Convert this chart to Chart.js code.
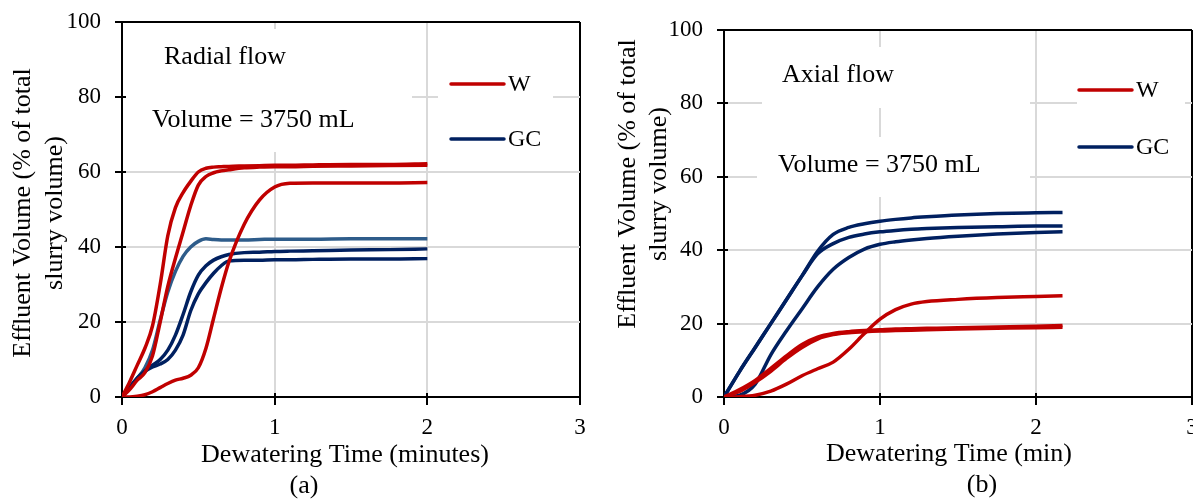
<!DOCTYPE html>
<html>
<head>
<meta charset="utf-8">
<script src="https://cdn.jsdelivr.net/npm/chart.js@4.4.1/dist/chart.umd.min.js"></script>
<style>
  html, body { margin: 0; padding: 0; background: #fff; overflow: hidden; width: 1193px; height: 499px; }
  #wrapA { position: absolute; left: 0; top: 0; width: 600px; height: 499px; }
  #wrapB { position: absolute; left: 600px; top: 0; width: 620px; height: 499px; }
</style>
</head>
<body>
<div id="wrapA"><canvas id="radialChart" width="600" height="499"></canvas></div>
<div id="wrapB"><canvas id="axialChart" width="620" height="499"></canvas></div>
<script>
// ===== DATA =====
const xTickValues = [0, 1, 2, 3];
const yTickValues = [0, 20, 40, 60, 80, 100];
const seriesNames = ["W", "GC"];

// (a) radial flow, time in minutes
const radialTime = [0, 0.05, 0.1, 0.15, 0.2, 0.25, 0.3, 0.35, 0.4, 0.45, 0.5, 0.55, 0.6, 0.65, 0.7, 0.8, 0.9, 1.0, 1.1, 1.25, 1.5, 1.75, 2.0];
const radialW1  = [0, 4, 8.5, 13, 19, 30, 43, 50.5, 54.5, 57.5, 60, 61, 61.3, 61.4, 61.5, 61.6, 61.7, 61.8, 61.8, 61.9, 62, 62, 62.2];
const radialW2  = [0, 2, 4.5, 6.5, 11, 20, 29.5, 37, 44, 51, 56.5, 58.8, 59.8, 60.3, 60.6, 61.1, 61.3, 61.4, 61.4, 61.5, 61.6, 61.7, 61.8];
const radialW3  = [0, 0, 0.2, 0.6, 1.4, 2.5, 3.6, 4.5, 5, 5.8, 7.8, 13, 21, 29, 36, 46, 52.5, 56, 57, 57.1, 57.1, 57.1, 57.2];
const radialGC1 = [0, 2.5, 5, 7.8, 12.5, 20.5, 28, 33.5, 37.5, 40, 41.5, 42.2, 42, 41.9, 41.9, 41.9, 42, 42.1, 42.1, 42.1, 42.2, 42.2, 42.2];
const radialGC2 = [0, 2.5, 5, 7, 8.5, 10, 12.5, 16.5, 22, 28, 32.5, 35, 36.5, 37.4, 38, 38.5, 38.6, 38.8, 38.9, 39, 39.2, 39.3, 39.5];
const radialGC3 = [0, 2.5, 5, 6.8, 8, 8.8, 10, 12.5, 16.5, 23, 27.5, 30.5, 33, 35, 36.3, 36.5, 36.5, 36.6, 36.6, 36.7, 36.8, 36.8, 36.9];

// (b) axial flow, time in minutes
const axialTime = [0, 0.1, 0.2, 0.3, 0.4, 0.5, 0.6, 0.7, 0.8, 0.9, 1.0, 1.1, 1.2, 1.3, 1.5, 1.75, 2.0, 2.17];
const axialW1  = [0, 1.5, 4, 7, 10.5, 13.5, 15.8, 17, 17.5, 17.8, 18, 18.1, 18.2, 18.3, 18.5, 18.7, 18.9, 19.0];
const axialW2  = [0, 2, 4.5, 7.8, 11.2, 14.3, 16.3, 17.3, 17.8, 18.1, 18.3, 18.5, 18.6, 18.7, 18.9, 19.1, 19.3, 19.5];
const axialW3  = [0, 0.1, 0.5, 1.6, 3.5, 5.8, 7.7, 9.5, 13, 17.3, 21.2, 23.8, 25.3, 26, 26.6, 27.1, 27.4, 27.6];
const axialGC1 = [0, 7, 13.5, 20, 26.5, 33, 39.7, 44.3, 46.2, 47.2, 47.9, 48.4, 48.8, 49.1, 49.6, 50.0, 50.2, 50.3];
const axialGC2 = [0, 7, 13.5, 20, 26.5, 33, 39, 41.8, 43.5, 44.4, 45.0, 45.4, 45.7, 45.9, 46.2, 46.4, 46.6, 46.6];
const axialGC3 = [0, 0.5, 3.5, 11.5, 18, 24, 30, 34.8, 38, 40.3, 41.6, 42.3, 42.8, 43.2, 43.8, 44.4, 44.8, 45.0];

// ===== STYLE =====
const RED = "#C00000";
const NAVY = "#002060";
const STEEL = "#2E5C8A";
const SERIF = "'Liberation Serif', 'Times New Roman', serif";

function pts(times, vals) {
  return times.map((t, i) => ({ x: t, y: vals[i] }));
}

function line(times, vals, color) {
  return {
    data: pts(times, vals),
    borderColor: color,
    borderWidth: 3.5,
    pointRadius: 0,
    fill: false,
    cubicInterpolationMode: "monotone"
  };
}

// white boxes, legend, titles and captions
const decor = {
  id: "decor",
  beforeDatasetsDraw(chart, args, opts) {
    const { ctx, chartArea, scales: { x, y } } = chart;
    ctx.save();
    ctx.fillStyle = "#fff";
    opts.boxes.forEach(b => ctx.fillRect(b[0], b[1], b[2] - b[0], b[3] - b[1]));
    // inner part of the tick marks
    ctx.strokeStyle = "#000";
    ctx.lineWidth = 2;
    ctx.beginPath();
    y.ticks.forEach(t => {
      const py = Math.round(y.getPixelForValue(t.value));
      ctx.moveTo(chartArea.left, py);
      ctx.lineTo(chartArea.left + 4, py);
    });
    x.ticks.forEach(t => {
      const px = Math.round(x.getPixelForValue(t.value));
      ctx.moveTo(px, chartArea.bottom);
      ctx.lineTo(px, chartArea.bottom - 4);
    });
    ctx.stroke();
    ctx.restore();
  },
  afterDraw(chart, args, opts) {
    const { ctx } = chart;
    ctx.save();
    ctx.fillStyle = "#000";
    ctx.textBaseline = "alphabetic";

    ctx.font = "26px " + SERIF;
    ctx.textAlign = "left";
    opts.notes.forEach(n => ctx.fillText(n.text, n.x, n.y));

    // legend
    opts.legend.forEach(l => {
      ctx.strokeStyle = l.color;
      ctx.lineWidth = 3.5;
      ctx.lineCap = "round";
      ctx.beginPath();
      ctx.moveTo(l.x1, l.y);
      ctx.lineTo(l.x2, l.y);
      ctx.stroke();
      ctx.font = "24px " + SERIF;
      ctx.fillText(l.text, l.x2 + 4, l.y + 7);
    });

    // x title and caption
    ctx.font = "26px " + SERIF;
    ctx.textAlign = "center";
    ctx.fillText(opts.xTitle.text, opts.xTitle.x, opts.xTitle.y);
    ctx.fillText(opts.caption.text, opts.caption.x, opts.caption.y);

    // y title, two lines
    ctx.translate(0, opts.yTitle.cy);
    ctx.rotate(-Math.PI / 2);
    ctx.textBaseline = "middle";
    opts.yTitle.lines.forEach((txt, i) => ctx.fillText(txt, 0, opts.yTitle.xs[i]));
    ctx.restore();
  }
};

function makeOptions(yWidth, pad, decorOpts) {
  return {
    responsive: false,
    animation: false,
    devicePixelRatio: 1,
    layout: { padding: pad },
    plugins: {
      legend: { display: false },
      tooltip: { enabled: false },
      decor: decorOpts
    },
    scales: {
      x: {
        type: "linear",
        min: 0,
        max: 3,
        afterBuildTicks: s => { s.ticks = xTickValues.map(v => ({ value: v })); },
        afterFit: s => { s.height = 102; s.paddingLeft = 0; s.paddingRight = 0; },
        ticks: { color: "#000", font: { family: SERIF, size: 23 }, padding: 9, maxRotation: 0 },
        grid: {
          color: c => (c.tick && c.tick.value === 3 ? "#000" : "#d9d9d9"),
          lineWidth: 2,
          tickColor: "#000",
          tickLength: 8,
          tickWidth: 2
        },
        border: { color: "#000", width: 2 }
      },
      y: {
        min: 0,
        max: 100,
        afterBuildTicks: s => { s.ticks = yTickValues.map(v => ({ value: v })); },
        afterFit: s => { s.width = yWidth; s.paddingTop = 0; s.paddingBottom = 0; },
        ticks: { color: "#000", font: { family: SERIF, size: 23 }, padding: 14 },
        grid: {
          color: c => (c.tick && c.tick.value === 100 ? "#000" : "#d9d9d9"),
          lineWidth: 2,
          tickColor: "#000",
          tickLength: 7,
          tickWidth: 2
        },
        border: { color: "#000", width: 2 }
      }
    }
  };
}

// ===== CHART (a) =====
new Chart(document.getElementById("radialChart"), {
  type: "line",
  data: {
    datasets: [
      line(radialTime, radialW3, RED),
      line(radialTime, radialW2, RED),
      line(radialTime, radialW1, RED),
      line(radialTime, radialGC3, NAVY),
      line(radialTime, radialGC2, NAVY),
      line(radialTime, radialGC1, STEEL)
    ]
  },
  options: makeOptions(122, { left: 0, top: 22, right: 20, bottom: 0 }, {
    boxes: [[125, 29, 412, 152], [438, 55, 553, 165]],
    notes: [
      { text: "Radial flow", x: 164, y: 64 },
      { text: "Volume = 3750 mL", x: 152, y: 127 }
    ],
    legend: [
      { text: seriesNames[0], color: RED, x1: 451, x2: 504, y: 84 },
      { text: seriesNames[1], color: NAVY, x1: 451, x2: 504, y: 139 }
    ],
    xTitle: { text: "Dewatering Time (minutes)", x: 345, y: 462 },
    caption: { text: "(a)", x: 304, y: 493 },
    yTitle: { lines: ["Effluent Volume (% of total", "slurry volume)"], xs: [23, 55], cy: 213 }
  }),
  plugins: [decor]
});

// ===== CHART (b) =====
new Chart(document.getElementById("axialChart"), {
  type: "line",
  data: {
    datasets: [
      line(axialTime, axialW1, RED),
      line(axialTime, axialW2, RED),
      line(axialTime, axialW3, RED),
      line(axialTime, axialGC1, NAVY),
      line(axialTime, axialGC2, NAVY),
      line(axialTime, axialGC3, NAVY)
    ]
  },
  options: makeOptions(124, { left: 0, top: 30, right: 28, bottom: 0 }, {
    boxes: [[162, 47, 430, 108], [157, 137, 430, 197], [477, 60, 585, 170]],
    notes: [
      { text: "Axial flow", x: 182, y: 82 },
      { text: "Volume = 3750 mL", x: 178, y: 172 }
    ],
    legend: [
      { text: seriesNames[0], color: RED, x1: 479, x2: 532, y: 90 },
      { text: seriesNames[1], color: NAVY, x1: 479, x2: 532, y: 147 }
    ],
    xTitle: { text: "Dewatering Time (min)", x: 349, y: 461 },
    caption: { text: "(b)", x: 382, y: 492 },
    yTitle: { lines: ["Effluent Volume (% of total", "slurry volume)"], xs: [28, 59], cy: 184 }
  }),
  plugins: [decor]
});
</script>
</body>
</html>
